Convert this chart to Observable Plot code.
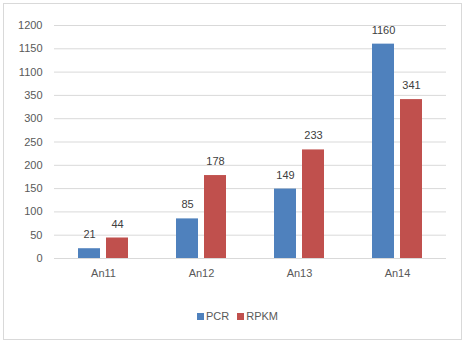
<!DOCTYPE html>
<html>
<head>
<meta charset="utf-8">
<script src="https://cdn.jsdelivr.net/npm/d3@7"></script>
<script src="https://cdn.jsdelivr.net/npm/@observablehq/plot@0.6"></script>
<style>
  html, body { margin: 0; padding: 0; background: #fff; }
  body { position: relative; width: 467px; height: 344px; overflow: hidden; font-family: "Liberation Sans", Arial, sans-serif; }
  #frame { position: absolute; left: 3px; top: 3px; width: 459px; height: 337px; border: 1px solid #d9d9d9; box-sizing: border-box; pointer-events: none; }
  #chart { position: absolute; left: 0; top: 0; }
  #legend { position: absolute; left: 0; top: 308px; width: 467px; height: 16px; display: flex; justify-content: center; align-items: center; font-size: 11px; color: #595959; gap: 8px; padding-left: 8px; box-sizing: border-box; }
  .sw { display: inline-block; width: 7px; height: 7px; margin-right: 2px; vertical-align: middle; }
  .item { display: flex; align-items: center; }
</style>
</head>
<body>
<div id="chart"></div>
<div id="legend"></div>
<div id="frame"></div>
<script>
const categories = ["An11", "An12", "An13", "An14"];
const seriesNames = ["PCR", "RPKM"];
const pcr = [21, 85, 149, 1160];
const rpkm = [44, 178, 233, 341];
const colors = ["#4F81BD", "#C0504D"];
const yTicks = [0, 50, 100, 150, 200, 250, 300, 350, 1100, 1150, 1200];

// broken axis: values above the break are shifted down
const breakLow = 350, breakHigh = 1100;
const shift = breakHigh - breakLow - 50;
const toAxis = v => (v >= breakHigh ? v - shift : v);
const fromAxis = v => (v > breakLow ? v + shift : v);

const data = [];
categories.forEach((c, i) => {
  data.push({cat: c, series: seriesNames[0], value: pcr[i]});
  data.push({cat: c, series: seriesNames[1], value: rpkm[i]});
});

const chart = Plot.plot({
  width: 467,
  height: 290,
  marginLeft: 54,
  marginRight: 21,
  marginTop: 25,
  marginBottom: 32,
  style: {fontFamily: "Liberation Sans, Arial, sans-serif", fontSize: "11px", color: "#595959", background: "transparent"},
  fx: {domain: categories, padding: 0, axis: "bottom", label: null, tickSize: 0, tickPadding: 11},
  x: {domain: seriesNames, axis: null, paddingInner: 0.214, paddingOuter: 0.857},
  y: {domain: [0, 500], transform: toAxis, axis: null},
  color: {domain: seriesNames, range: colors},
  marks: [
    Plot.gridY(yTicks.map(toAxis), {stroke: "#d9d9d9", strokeOpacity: 1}),
    Plot.axisY(yTicks.map(toAxis), {tickSize: 0, tickPadding: 12, tickFormat: d => String(fromAxis(d)), fill: "#595959", label: null, fontSize: 11}),
    Plot.barY(data, {fx: "cat", x: "series", y1: 0, y2: "value", fill: "series"}),
    Plot.text(data, {fx: "cat", x: "series", y: "value", text: d => String(d.value), dy: -14, fill: "#404040", fontSize: 11})
  ]
});
document.getElementById("chart").appendChild(chart);

const legend = document.getElementById("legend");
seriesNames.forEach((s, i) => {
  const item = document.createElement("span");
  item.className = "item";
  const sw = document.createElement("span");
  sw.className = "sw";
  sw.style.background = colors[i];
  item.appendChild(sw);
  item.appendChild(document.createTextNode(s));
  legend.appendChild(item);
});
</script>
</body>
</html>
